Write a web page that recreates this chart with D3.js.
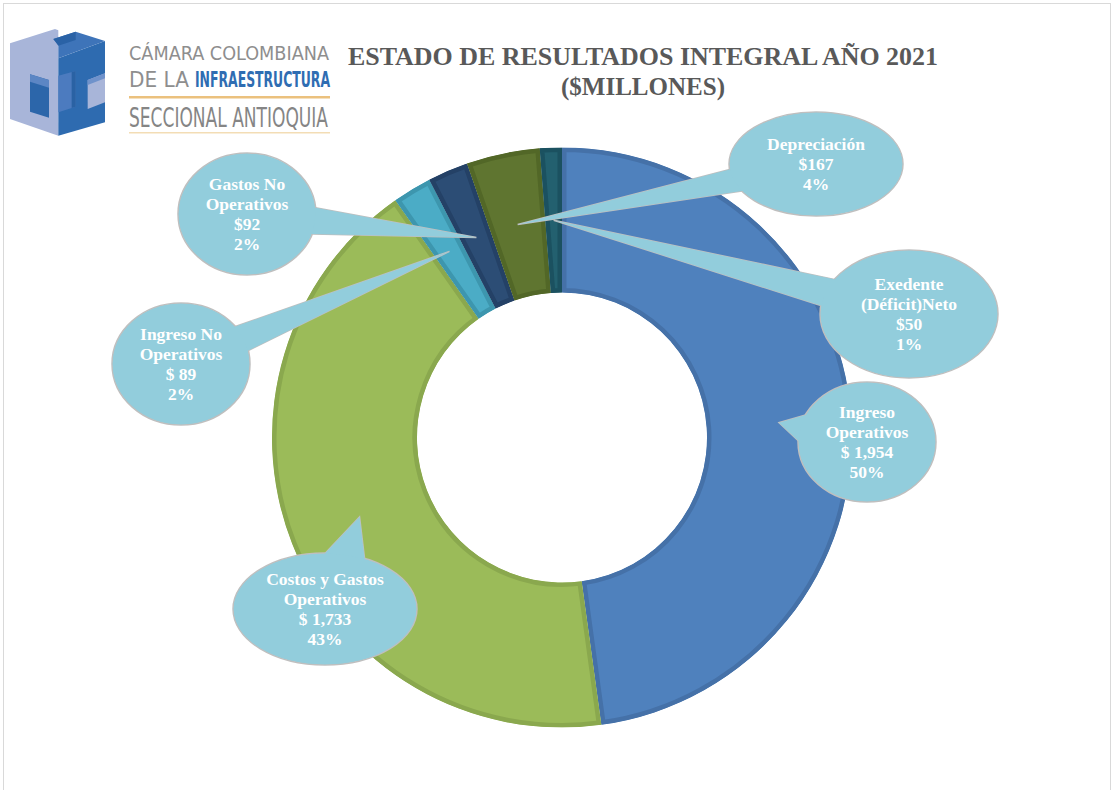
<!DOCTYPE html>
<html>
<head>
<meta charset="utf-8">
<script src="https://cdn.jsdelivr.net/npm/d3@7"></script>
<style>
  html, body { margin: 0; padding: 0; background: #fff; }
  svg { display: block; }
</style>
</head>
<body>
<svg class="canvas"></svg>
<script>
var width = 1113
var height = 790

// data
var categories = ['Ingreso Operativos', 'Costos y Gastos Operativos', 'Ingreso No Operativos',
    'Gastos No Operativos', 'Depreciación', 'Exedente (Déficit)Neto']
var values = [1954, 1733, 89, 92, 167, 50]
var valueLabels = ['$ 1,954', '$ 1,733', '$ 89', '$92', '$167', '$50']
var percentLabels = ['50%', '43%', '2%', '2%', '4%', '1%']
var nameLines = [
    ['Ingreso', 'Operativos'],
    ['Costos y Gastos', 'Operativos'],
    ['Ingreso No', 'Operativos'],
    ['Gastos No', 'Operativos'],
    ['Depreciación'],
    ['Exedente', '(Déficit)Neto']
]
var titleLines = ['ESTADO DE RESULTADOS INTEGRAL AÑO 2021', '($MILLONES)']

// styling
var fills = ['#4F81BD', '#9BBB59', '#4BACC6', '#2C4D75', '#5F7530', '#23606F']
var borders = ['#4571A8', '#8AA84E', '#3D96AE', '#244166', '#526727', '#1B5160']
// callout bubbles: ellipse centre and radii
var bubbles = [
    { cx: 867, cy: 442, rx: 69, ry: 60 },
    { cx: 325, cy: 609, rx: 92, ry: 56 },
    { cx: 181, cy: 364, rx: 69, ry: 61 },
    { cx: 247, cy: 214, rx: 69, ry: 61 },
    { cx: 816, cy: 164, rx: 87, ry: 52 },
    { cx: 909, cy: 314, rx: 89, ry: 64 }
]

var cx = 562, cy = 437.5
var outerR = 290, innerR = 145

var svg = d3.select('.canvas')
    .attr('width', width)
    .attr('height', height)

svg.append('rect')
    .attr('x', 3.5).attr('y', 3.5)
    .attr('width', width - 6).attr('height', height)
    .attr('fill', '#fff')
    .attr('stroke', '#D9D9D9')

var defs = svg.append('defs')

// ---- logo ----
var logo = svg.append('g')
function zp(pts) { // points picked from a 3x crop at (5,25)
    return pts.map(function (p) { return (p[0] / 3 + 5) + ',' + (p[1] / 3 + 25) }).join(' ')
}
var logoShapes = [
    // left (lavender) face and top
    { c: '#A8B5D9', p: [[15, 55], [150, 12], [160, 16], [160, 332], [15, 282]] },
    // front (blue) face
    { c: '#2E6BB0', p: [[160, 100], [300, 48], [300, 292], [160, 332]] },
    // top of the I, lighter blue
    { c: '#3E74B9', p: [[145, 42], [212, 20], [300, 48], [160, 100], [160, 60]] },
    { c: '#2A62A6', p: [[145, 42], [212, 20], [212, 45], [160, 62]] },
    // notch on the left face
    { c: '#2C66AA', p: [[75, 148], [132, 165], [132, 278], [75, 260]] },
    { c: '#5C86C4', p: [[75, 148], [132, 165], [132, 188], [75, 170]] },
    // notch on the right of the I
    { c: '#A8B5D9', p: [[248, 165], [300, 145], [300, 232], [248, 252]] },
    { c: '#6F92CB', p: [[248, 165], [300, 145], [300, 160], [248, 180]] },
    // notch on the left of the I
    { c: '#4C7BBF', p: [[160, 152], [212, 138], [212, 245], [160, 262]] },
    { c: '#2A62A4', p: [[200, 141], [212, 138], [212, 245], [200, 249]] }
]
logo.selectAll('polygon')
    .data(logoShapes)
    .enter().append('polygon')
    .attr('points', function (d) { return zp(d.p) })
    .attr('fill', function (d) { return d.c })

var logoFont = '"DejaVu Sans Condensed", "DejaVu Sans", sans-serif'
var logoTexts = [
    { t: 'CÁMARA COLOMBIANA', x: 129, y: 60, w: 200, s: 20, c: '#8E8E8E', b: false },
    { t: 'DE LA', x: 129, y: 87, w: 60, s: 21, c: '#8E8E8E', b: false },
    { t: 'INFRAESTRUCTURA', x: 195, y: 87, w: 135, s: 21, c: '#2F6DB2', b: true },
    { t: 'SECCIONAL ANTIOQUIA', x: 129, y: 127, w: 199, s: 27, c: '#858585', b: false }
]
logo.selectAll('text')
    .data(logoTexts)
    .enter().append('text')
    .attr('x', function (d) { return d.x })
    .attr('y', function (d) { return d.y })
    .attr('textLength', function (d) { return d.w })
    .attr('lengthAdjust', 'spacingAndGlyphs')
    .style('font-family', logoFont)
    .style('font-size', function (d) { return d.s + 'px' })
    .style('font-weight', function (d) { return d.b ? 'bold' : 'normal' })
    .attr('fill', function (d) { return d.c })
    .text(function (d) { return d.t })
logo.append('rect')
    .attr('x', 129).attr('y', 96).attr('width', 201).attr('height', 2.5)
    .attr('fill', '#EBC17E')
logo.append('rect')
    .attr('x', 129).attr('y', 132).attr('width', 201).attr('height', 1.5)
    .attr('fill', '#F3DDB5')

// ---- title ----
var serif = '"Liberation Serif", "DejaVu Serif", serif'
svg.selectAll('text.title')
    .data(titleLines)
    .enter().append('text')
    .attr('class', 'title')
    .attr('x', 643)
    .attr('y', function (d, i) { return 65 + i * 30 })
    .attr('text-anchor', 'middle')
    .attr('textLength', function (d, i) { return i == 0 ? 590 : 164 })
    .attr('lengthAdjust', 'spacingAndGlyphs')
    .style('font-family', serif).style('font-weight', 'bold').style('font-size', '25px')
    .attr('fill', '#595959')
    .text(function (d) { return d })

// ---- donut ----
var pie = d3.pie().sort(null).value(function (d) { return d })
var arcs = pie(values)
var arc = d3.arc().innerRadius(innerR).outerRadius(outerR)

var ring = svg.append('g')
    .attr('transform', 'translate(' + cx + ',' + cy + ')')

arcs.forEach(function (a, i) {
    defs.append('clipPath').attr('id', 'clip' + i)
        .append('path').attr('d', arc(a))
})
ring.selectAll('path.slice')
    .data(arcs)
    .enter().append('path')
    .attr('class', 'slice')
    .attr('d', arc)
    .attr('fill', function (d, i) { return fills[i] })
    .attr('stroke', function (d, i) { return borders[i] })
    .attr('stroke-width', 9)
    .attr('stroke-linejoin', 'round')
    .attr('clip-path', function (d, i) { return 'url(#clip' + i + ')' })

// ---- callouts ----
var calloutData = arcs.map(function (a, i) {
    var c = arc.centroid(a)
    return {
        i: i, b: bubbles[i],
        tip: [c[0] + cx, c[1] + cy],
        lines: nameLines[i].concat([valueLabels[i], percentLabels[i]])
    }
})

function wedge(d) {
    var b = d.b
    var th = Math.atan2((d.tip[1] - b.cy) / b.ry, (d.tip[0] - b.cx) / b.rx)
    var w = 0.22
    var p1 = [b.cx + b.rx * Math.cos(th - w), b.cy + b.ry * Math.sin(th - w)]
    var p2 = [b.cx + b.rx * Math.cos(th + w), b.cy + b.ry * Math.sin(th + w)]
    var q1 = [b.cx + b.rx * 0.8 * Math.cos(th - w), b.cy + b.ry * 0.8 * Math.sin(th - w)]
    var q2 = [b.cx + b.rx * 0.8 * Math.cos(th + w), b.cy + b.ry * 0.8 * Math.sin(th + w)]
    return 'M' + q1 + 'L' + p1 + 'L' + d.tip + 'L' + p2 + 'L' + q2 + 'Z'
}

var co = svg.append('g').selectAll('g')
    .data(calloutData)
    .enter().append('g')

// outline pass
co.append('path').attr('d', wedge)
    .attr('fill', '#92CDDC').attr('stroke', '#BFBFBF').attr('stroke-width', 1.5)
    .attr('stroke-linejoin', 'miter')
co.append('ellipse')
    .attr('cx', function (d) { return d.b.cx }).attr('cy', function (d) { return d.b.cy })
    .attr('rx', function (d) { return d.b.rx }).attr('ry', function (d) { return d.b.ry })
    .attr('fill', '#92CDDC').attr('stroke', '#BFBFBF').attr('stroke-width', 1.5)
// fill pass hides the inner seams
co.append('path').attr('d', wedge).attr('fill', '#92CDDC')
co.append('ellipse')
    .attr('cx', function (d) { return d.b.cx }).attr('cy', function (d) { return d.b.cy })
    .attr('rx', function (d) { return d.b.rx - 0.75 }).attr('ry', function (d) { return d.b.ry - 0.75 })
    .attr('fill', '#92CDDC')

co.each(function (d) {
    var g = d3.select(this)
    var n = d.lines.length
    var step = 19.8
    g.selectAll('text')
        .data(d.lines)
        .enter().append('text')
        .attr('x', d.b.cx)
        .attr('y', function (t, k) { return d.b.cy + 6 + (k - (n - 1) / 2) * step })
        .attr('text-anchor', 'middle')
        .style('font-family', serif).style('font-weight', 'bold').style('font-size', '17.5px')
        .attr('fill', '#fff')
        .text(function (t) { return t })
})
</script>
</body>
</html>
